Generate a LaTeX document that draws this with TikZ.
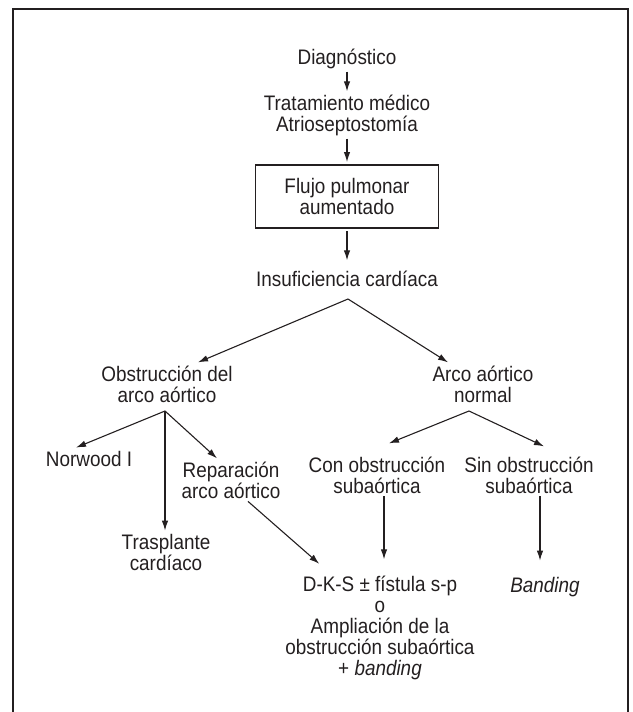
\documentclass[tikz,border=0pt]{standalone}
\usepackage{fontspec}
\setmainfont{Liberation Sans}[FakeStretch=0.9]
\usetikzlibrary{arrows.meta}
\definecolor{ink}{HTML}{231F20}

\begin{document}
\begin{tikzpicture}[x=1pt, y=-1pt, >={Latex[length=10pt,width=6.5pt]},
    every node/.style={font=\fontsize{21pt}{21pt}\selectfont, align=center, inner sep=3pt, text=ink},
    box/.style={draw=ink, line width=1.2pt, minimum width=183pt, minimum height=63pt, outer sep=3pt},
    link/.style={->, line width=1.1pt, draw=ink}]

\useasboundingbox (0,0) rectangle (632,712);

% Frame
\draw[line width=1.4pt, ink] (13,712) -- (13,9) -- (628,9) -- (628,712);

% Nodes (base = last line)
\node (diag) [anchor=base] at (347,64) {Diagnóstico};
\node (trat) [anchor=base] at (347,131) {Tratamiento médico\\Atrioseptostomía};
\node (flujo) [box] at (347,196.5) {Flujo pulmonar\\aumentado};
\node (insuf) [anchor=base] at (347,286) {Insuficiencia cardíaca};

\node (obstr) [anchor=base] at (167,402) {Obstrucción del\\arco aórtico};
\node (arco) [anchor=base] at (483,402) {Arco aórtico\\normal};

\node (norw) [anchor=base] at (89,466) {Norwood I};
\node (repar) [anchor=base] at (231,498) {Reparación\\arco aórtico};
\node (trasp) [anchor=base] at (166,570) {Trasplante\\cardíaco};

\node (con) [anchor=base] at (377,493) {Con obstrucción\\subaórtica};
\node (sin) [anchor=base] at (529,493) {Sin obstrucción\\subaórtica};

\node (dks) [anchor=base] at (380,675)
    {D-K-S ± fístula s-p\\o\\Ampliación de la\\obstrucción subaórtica\\+ \textit{banding}};
\node (band) [anchor=base] at (545,592) {\textit{Banding}};

% Forks
\coordinate (fork1) at (348,299);
\coordinate (fork2) at (165,411);
\coordinate (fork3) at (469,411);

% Arrows down the main line
\draw[link] (diag) -- (trat);
\draw[link] (trat) -- (flujo);
\draw[link, shorten >=7pt] (flujo) -- (insuf);

% Arrows from the forks
\draw[link] (fork1) -- ([xshift=31pt]obstr.north);
\draw[link] (fork1) -- ([xshift=-35pt]arco.north);
\draw[link] (fork2) -- ([xshift=-13pt]norw.north);
\draw[link] (fork2) -- (fork2 |- trasp.north);
\draw[link] (fork2) -- ([xshift=-14pt]repar.north);
\draw[link] (fork3) -- ([xshift=12pt, yshift=10pt]con.north);
\draw[link] (fork3) -- ([xshift=15pt, yshift=7pt]sin.north);

% Arrows to the treatments
\draw[link, shorten >=13pt] ([xshift=17pt]repar.south) -- ([xshift=-51pt]dks.north);
\draw[link, shorten >=13pt] ([xshift=7pt]con.south) -- ([xshift=4pt]dks.north);
\draw[link, shorten >=13pt] ([xshift=11pt]sin.south) -- ([xshift=-5pt]band.north);

\end{tikzpicture}
\end{document}
